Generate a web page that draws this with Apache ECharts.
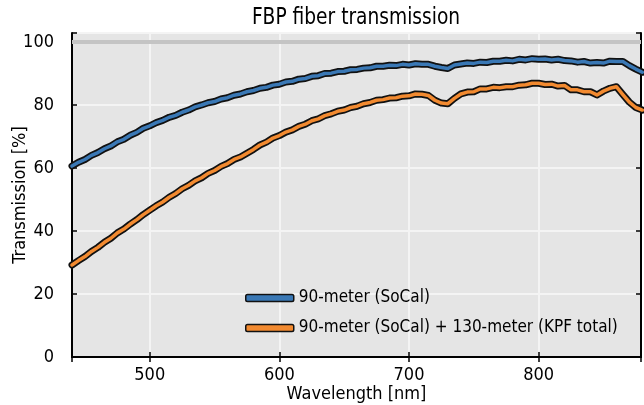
<!DOCTYPE html>
<html>
<head>
<meta charset="utf-8">
<script src="https://cdn.jsdelivr.net/npm/echarts@6/dist/echarts.min.js"></script>
<style>
html,body{margin:0;padding:0;background:#fff;}
#chart{width:644px;height:405px;}
</style>
</head>
<body>
<div id="chart"></div>
<script>
// Wavelength grid [nm]
const wavelengths = [440,445,450,455,460,465,470,475,480,485,490,495,500,505,510,515,520,525,530,535,540,545,550,555,560,565,570,575,580,585,590,595,600,605,610,615,620,625,630,635,640,645,650,655,660,665,670,675,680,685,690,695,700,705,710,715,720,725,730,735,740,745,750,755,760,765,770,775,780,785,790,795,800,805,810,815,820,825,830,835,840,845,850,855,860,865,870,875,880];
// 90-meter (SoCal) transmission [%]
const socal90 = [60.6,61.8,62.7,64.0,64.9,66.1,67.0,68.3,69.1,70.4,71.3,72.6,73.4,74.4,75.1,76.1,76.7,77.7,78.4,79.4,80.0,80.7,81.1,81.9,82.3,83.1,83.5,84.2,84.6,85.3,85.6,86.3,86.6,87.3,87.5,88.2,88.4,89.1,89.3,90.0,90.1,90.6,90.7,91.2,91.3,91.7,91.8,92.3,92.3,92.6,92.5,92.9,92.7,93.1,92.9,92.9,92.3,91.9,91.6,92.7,93.0,93.3,93.2,93.6,93.5,93.9,93.9,94.2,94.0,94.5,94.3,94.7,94.5,94.6,94.3,94.5,94.1,94.0,93.6,93.8,93.3,93.5,93.3,93.9,93.8,93.8,92.5,91.4,90.4];
// 90-meter (SoCal) + 130-meter (KPF total) transmission [%]
const kpfTotal = [29.2,30.6,31.9,33.5,34.8,36.4,37.7,39.4,40.6,42.2,43.6,45.2,46.6,48.0,49.2,50.7,51.9,53.4,54.5,55.9,56.9,58.3,59.2,60.5,61.4,62.7,63.5,64.7,65.9,67.3,68.2,69.5,70.3,71.4,72.1,73.2,73.9,75.0,75.6,76.6,77.2,78.0,78.4,79.2,79.6,80.4,80.8,81.5,81.7,82.2,82.3,82.8,82.9,83.5,83.4,83.0,81.5,80.6,80.4,82.1,83.5,84.1,84.2,85.1,85.1,85.6,85.5,85.8,85.8,86.3,86.4,86.9,86.9,86.5,86.6,86.0,86.2,84.8,84.8,84.2,84.2,83.2,84.4,85.3,85.8,83.3,80.9,79.2,78.4];

const seriesNames = ['90-meter (SoCal)', '90-meter (SoCal) + 130-meter (KPF total)'];
const yTicks = [0,20,40,60,80,100];
const xTicks = [500,600,700,800];

const FONT = "'Liberation Sans Narrow','DejaVu Sans Condensed',sans-serif";
const BLUE = '#3a78b5';
const ORANGE = '#f28a30';
const X_MIN = 440, X_MAX = 879, Y_MIN = 0, Y_MAX = 102.85;

function pairs(ys){ return wavelengths.map((w,i)=>[w, ys[i]]); }

const chart = echarts.init(document.getElementById('chart'), null, {renderer:'canvas'});
const tickStyle = {show:true, inside:true, length:5, lineStyle:{color:'#000', width:1.5}};
const axisLine = {show:true, lineStyle:{color:'#000', width:2}};
const option = {
  animation:false,
  backgroundColor:'#fff',
  textStyle:{fontFamily:FONT},
  grid:{left:72, right:3, top:33, bottom:48, show:true, backgroundColor:'#e5e5e5', borderWidth:0,
        containLabel:false, outerBoundsMode:'none'},
  graphic:[
    {type:'text', x:356, y:18, scaleX:0.9,
     style:{text:'FBP fiber transmission', align:'center', verticalAlign:'middle', font:"23px "+FONT, fill:'#000'}}
  ],
  legend:{
    orient:'vertical', left:240, top:283, itemGap:10,
    itemWidth:48, itemHeight:7, icon:'roundRect',
    itemStyle:{borderColor:'#111', borderWidth:1.5},
    textStyle:{fontFamily:FONT, fontSize:17, color:'#000', lineHeight:20},
    data:seriesNames
  },
  xAxis:[
    {type:'value', min:X_MIN, max:X_MAX, position:'bottom',
     name:'Wavelength [nm]', nameLocation:'middle', nameGap:28, nameMoveOverlap:false,
     nameTextStyle:{fontFamily:FONT, fontSize:18, color:'#000'},
     axisLine:axisLine, axisTick:tickStyle,
     axisLabel:{fontFamily:FONT, fontSize:18, color:'#000', margin:9,
       formatter:v=> xTicks.includes(Math.round(v*1000)/1000) ? String(v) : ''},
     splitLine:{show:true, lineStyle:{color:'#f4f4f4', width:2}}},
    {type:'value', min:X_MIN, max:X_MAX, position:'top',
     axisLine:axisLine, axisTick:tickStyle, axisLabel:{show:false}, splitLine:{show:false}}
  ],
  yAxis:[
    {type:'value', min:Y_MIN, max:Y_MAX, interval:20, position:'left',
     name:'Transmission [%]', nameLocation:'middle', nameGap:43, nameMoveOverlap:false,
     nameTextStyle:{fontFamily:FONT, fontSize:18, color:'#000'},
     axisLine:axisLine, axisTick:tickStyle,
     axisLabel:{fontFamily:FONT, fontSize:18, color:'#000', margin:18,
       formatter:v=> yTicks.includes(Math.round(v*1000)/1000) ? String(v) : ''},
     splitLine:{show:true, lineStyle:{color:'#f4f4f4', width:2}}},
    {type:'value', min:Y_MIN, max:Y_MAX, interval:20, position:'right',
     axisLine:axisLine, axisTick:tickStyle, axisLabel:{show:false}, splitLine:{show:false}}
  ],
  series:[
    {name:'_outline1', type:'line', data:pairs(socal90), showSymbol:false, symbol:'none', silent:true, z:2,
     lineStyle:{color:'#111', width:7, cap:'round', join:'round'},
     markLine:{silent:true, symbol:['none','none'], label:{show:false},
       lineStyle:{color:'#c4c4c4', width:4, type:'solid'}, data:[{yAxis:100}], z:1}},
    {name:'_outline2', type:'line', data:pairs(kpfTotal), showSymbol:false, symbol:'none', silent:true, z:2,
     lineStyle:{color:'#111', width:7, cap:'round', join:'round'}},
    {name:seriesNames[0], type:'line', data:pairs(socal90), showSymbol:false, symbol:'none', z:3,
     color:BLUE, itemStyle:{color:BLUE}, lineStyle:{color:BLUE, width:3.5, cap:'round', join:'round'}},
    {name:seriesNames[1], type:'line', data:pairs(kpfTotal), showSymbol:false, symbol:'none', z:3,
     color:ORANGE, itemStyle:{color:ORANGE}, lineStyle:{color:ORANGE, width:3.5, cap:'round', join:'round'}}
  ]
};
chart.setOption(option);
</script>
</body>
</html>
